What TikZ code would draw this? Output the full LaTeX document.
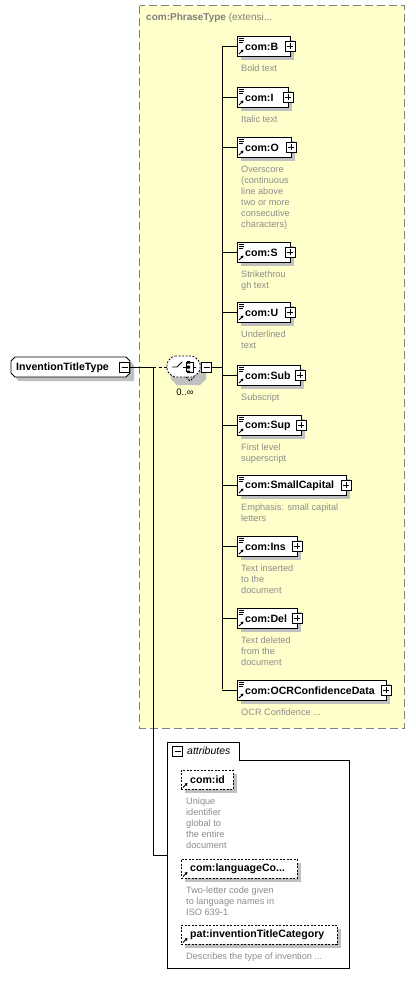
\documentclass[tikz,border=0pt]{standalone}
\usepackage{fontspec}
\setmainfont{Liberation Sans}
\usetikzlibrary{arrows.meta}
\definecolor{ybg}{HTML}{FFFFCC}
\definecolor{shd}{HTML}{C0C0C0}
\definecolor{dgray}{HTML}{8C8C8C}
\definecolor{bgray}{HTML}{808080}
\tikzset{
  elembox/.style={draw=black, fill=white, line width=0.9pt, minimum height=20pt, anchor=west, inner sep=0pt},
  attrbox/.style={draw=black, fill=white, line width=0.9pt, dashed, dash pattern=on 2pt off 1.5pt, minimum height=19pt, anchor=west, inner sep=0pt},
  nm/.style={font=\fontsize{10.6}{12}\selectfont\bfseries, inner sep=0pt, anchor=west},
  desc/.style={font=\fontsize{9.2}{11}\selectfont, text=dgray, inner sep=0pt, anchor=north west, align=left},
  pbox/.style={draw=black, fill=white, line width=0.7pt, minimum size=10pt, inner sep=0pt},
  conn/.style={line width=0.9pt},
}
\newcommand\elem[5]{%
  \fill[shd] (241,#2-6) rectangle (#3+4,#2+14);
  \node[elembox, minimum width={#3-237}] (#1) at (237,#2) {};
  \node[nm] (#1t) at (245,#2+0.5) {#4};
  \node[pbox] (#1p) at (#3,#2) {};
  \draw[line width=0.6pt] ([xshift=-3pt]#1p.center) -- ([xshift=3pt]#1p.center)
     ([yshift=-3pt]#1p.center) -- ([yshift=3pt]#1p.center);
  \draw[line width=0.6pt] (239,#2-7.5) -- +(5,0) (239,#2-5.5) -- +(5,0) (239,#2-3.5) -- +(3.5,0);
  \draw[line width=1pt, -{Triangle[length=2.5pt,width=3pt]}] (239,#2+8) -- (243.5,#2+3.5);
  \node[desc] (#1d) at (241,#2+19) {#5};
  \draw[conn] (222,#2) -- (#1.west);
}
\newcommand\attr[5]{%
  \fill[shd] (185,#2-5.5) rectangle (#3+4,#2+13.5);
  \node[attrbox, minimum width={#3-181}] (#1) at (181,#2) {};
  \node[nm] (#1t) at (190,#2+0.5) {#4};
  \draw[line width=1pt, -{Triangle[length=2.5pt,width=3pt]}] (183,#2+8) -- (187.5,#2+3.5);
  \node[desc] (#1d) at (186,#2+18) {#5};
}
\begin{document}
\begin{tikzpicture}[x=1pt,y=-1pt]
\useasboundingbox (0,0) rectangle (415,987);
\fill[white] (0,0) rectangle (415,987);
% extension box
\draw[fill=ybg, draw=bgray, line width=1pt, dash pattern=on 8pt off 4pt] (139.5,6) rectangle (404,728);
\node[font=\fontsize{10}{12}\selectfont, text=bgray, anchor=west, inner sep=0pt] (ext) at (146,17.5) {\textbf{com:PhraseType} (extensi...};
% root
\fill[shd] (15,361) -- (130,361) -- (134,365) -- (134,381) -- (19,381) -- (15,377) -- cycle;
\draw[fill=white, line width=0.9pt] (15,357) -- (126,357) -- (130,361) -- (130,373) -- (126,377) -- (15,377) -- (11,373) -- (11,361) -- cycle;
\coordinate (rootE) at (130,367);
\node[nm] (root) at (16,367.5) {InventionTitleType};
\node[pbox] (rootm) at (124.5,367) {};
\draw[line width=0.6pt] ([xshift=-3pt]rootm.center) -- ([xshift=3pt]rootm.center);
% compositor
\coordinate (j1) at (153,367);
\coordinate (cW) at (167,367);
\fill[shd] (177,362) -- (200,362) -- (206,368) -- (206,379) -- (200,385) -- (177,385) -- (171,379) -- (171,368) -- cycle;
\draw[fill=white, line width=0.8pt, dash pattern=on 2pt off 1.5pt, rounded corners=2pt] (173,356) -- (194,356) -- (200,362) -- (200,371) -- (194,377) -- (173,377) -- (167,371) -- (167,362) -- cycle;
\draw[line width=0.8pt, dash pattern=on 2pt off 1.5pt] (186,377) -- (190,381) -- (194,377);
\draw[line width=0.9pt] (172,367) -- (177,367) -- (182,362);
\draw[line width=0.9pt] (183,367) -- (186,367) (186,362) -- (186,372);
\fill (187,361) rectangle (190,363.5) (187,365.5) rectangle (190,368.5) (187,370.5) rectangle (190,373);
\draw[line width=0.8pt] (190,362) -- (193,362) -- (193,372) -- (190,372) (193,367) -- (196,367);
\node[pbox] (compm) at (206.5,367) {};
\draw[line width=0.6pt] ([xshift=-3pt]compm.center) -- ([xshift=3pt]compm.center);
\node[font=\fontsize{9.5}{11}\selectfont, inner sep=0pt] (mult) at (185,392) {0..∞};
\draw[conn] (rootE) -- (j1);
\draw[line width=0.8pt, dash pattern=on 3pt off 2.5pt] (j1) -- (cW);
\draw[conn] (compm.east) -- (222,367);
\draw[conn] (222,46) -- (222,689);
% elements
\elem{B}{46}{290}{com:B}{Bold text}
\elem{I}{97}{288}{com:I}{Italic text}
\elem{O}{147}{291}{com:O}{Overscore\\(continuous\\line above\\two or more\\consecutive\\characters)}
\elem{S}{252}{290}{com:S}{Strikethrou\\gh text}
\elem{U}{312}{290}{com:U}{Underlined\\text}
\elem{Sub}{375}{300}{com:Sub}{Subscript}
\elem{Sup}{425}{301}{com:Sup}{First level\\superscript}
\elem{SC}{485}{346}{com:SmallCapital}{Emphasis: small capital\\letters}
\elem{Ins}{546}{297}{com:Ins}{Text inserted\\to the\\document}
\elem{Del}{618}{297}{com:Del}{Text deleted\\from the\\document}
\elem{OCR}{690}{386}{com:OCRConfidenceData}{OCR Confidence ...}
% attributes
\draw[line width=0.9pt, fill=white] (167,742) -- (239,742) -- (239,760) -- (349,760) -- (349,968) -- (167,968) -- cycle;
\coordinate (attrW) at (167,855);
\draw[conn] (j1) -- (153,855) -- (attrW);
\node[pbox] (am) at (177.5,751) {};
\draw[line width=0.6pt] ([xshift=-3pt]am.center) -- ([xshift=3pt]am.center);
\node[font=\fontsize{10.5}{12}\selectfont\itshape, anchor=west, inner sep=0pt] (atl) at (187,751) {attributes};
\attr{id}{779.5}{233}{com:id}{Unique\\identifier\\global to\\the entire\\document}
\attr{lang}{868.5}{297}{com:languageCo...}{Two-letter code given\\to language names in\\ISO 639-1}
\attr{cat}{934.5}{337}{pat:inventionTitleCategory}{Describes the type of invention ...}
\end{tikzpicture}
\end{document}
